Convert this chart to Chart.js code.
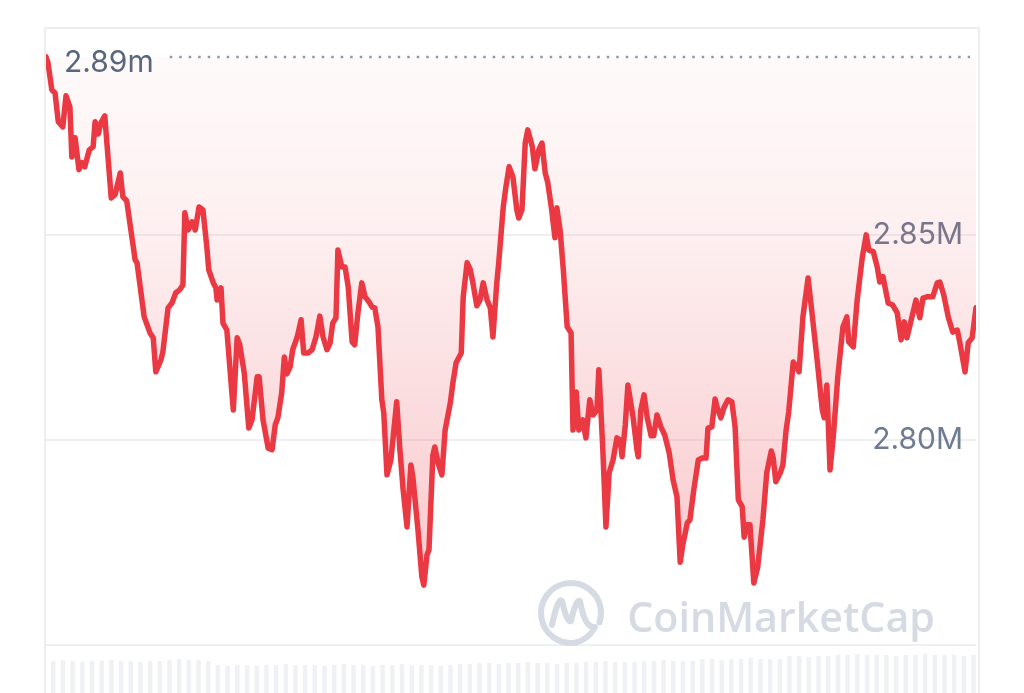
<!DOCTYPE html>
<html>
<head>
<meta charset="utf-8">
<script src="https://cdn.jsdelivr.net/npm/chart.js@4.4.1/dist/chart.umd.min.js"></script>
<style>
  html, body { margin: 0; padding: 0; background: #fff; }
  body { width: 1024px; height: 693px; overflow: hidden; position: relative; }
  #card { position: absolute; left: 44px; top: 27px; width: 932px; height: 700px;
          border: 2px solid #eceef1; border-bottom: none; }
  #wrap { position: absolute; left: 0; top: 0; width: 930px; height: 664px; }
</style>
</head>
<body>
<div id="card"><div id="wrap"><canvas id="price-chart"></canvas></div></div>
<script>
// minutes since start of the 24h window
var priceTimes = [
  0, 3, 9, 14, 19, 26, 31, 37, 40, 45,
  51, 56, 60, 67, 73, 76, 81, 85, 91, 101,
  107, 115, 119, 125, 138, 141, 152, 161, 166, 170,
  178, 181, 189, 195, 201, 207, 212, 215, 220, 226,
  231, 237, 243, 249, 252, 259, 263, 265, 271, 274,
  280, 290, 296, 300, 307, 314, 319, 327, 330, 336,
  344, 350, 355, 359, 365, 369, 373, 378, 382, 389,
  395, 399, 406, 412, 418, 424, 429, 435, 440, 444,
  449, 452, 458, 463, 468, 474, 478, 483, 489, 494,
  500, 505, 509, 514, 520, 523, 528, 534, 543, 548,
  553, 559, 565, 568, 576, 582, 585, 590, 593, 599,
  602, 607, 613, 618, 626, 630, 635, 643, 646, 652,
  657, 661, 667, 672, 677, 683, 688, 692, 698, 701,
  708, 712, 717, 723, 729, 732, 737, 742, 746, 753,
  757, 763, 768, 773, 777, 783, 788, 791, 796, 801,
  807, 813, 816, 821, 825, 831, 836, 842, 847, 853,
  856, 862, 867, 872, 878, 884, 889, 892, 897, 901,
  909, 915, 917, 921, 926, 931, 937, 941, 946, 952,
  958, 965, 971, 977, 982, 986, 993, 997, 1003, 1010,
  1016, 1022, 1025, 1031, 1036, 1039, 1045, 1050, 1056, 1062,
  1067, 1072, 1078, 1081, 1085, 1090, 1096, 1102, 1110, 1116,
  1123, 1126, 1130, 1137, 1141, 1146, 1150, 1157, 1163, 1166,
  1172, 1180, 1186, 1194, 1202, 1205, 1209, 1214, 1219, 1226,
  1234, 1240, 1243, 1250, 1256, 1264, 1270, 1274, 1281, 1287,
  1291, 1296, 1304, 1311, 1318, 1324, 1329, 1333, 1339, 1347,
  1353, 1358, 1364, 1373, 1380, 1384, 1390, 1397, 1404, 1411,
  1415, 1423, 1428, 1434, 1440
];

// value in thousands
var priceValues = [
  2893.4, 2892.0, 2885.4, 2884.6, 2877.6, 2876.3, 2883.9, 2881.2, 2869.0, 2873.7,
  2865.9, 2867.6, 2866.6, 2870.7, 2871.5, 2877.6, 2874.6, 2877.3, 2879.0, 2859.0,
  2859.8, 2865.1, 2859.3, 2858.3, 2843.9, 2843.2, 2830.0, 2826.1, 2824.9, 2816.6,
  2819.5, 2821.5, 2832.2, 2833.4, 2835.9, 2836.6, 2837.8, 2855.4, 2851.2, 2853.2,
  2851.2, 2856.8, 2856.1, 2847.1, 2841.5, 2838.3, 2837.1, 2834.1, 2837.1, 2828.5,
  2826.8, 2807.3, 2824.9, 2823.2, 2816.3, 2802.9, 2804.9, 2815.4, 2815.4, 2804.9,
  2798.0, 2797.6, 2803.7, 2805.4, 2811.5, 2820.2, 2816.1, 2817.8, 2822.0, 2825.1,
  2829.3, 2821.2, 2821.2, 2822.0, 2825.1, 2830.2, 2825.1, 2822.0, 2823.7, 2828.5,
  2829.8, 2846.3, 2842.2, 2842.2, 2837.3, 2823.9, 2823.2, 2831.0, 2838.3, 2834.9,
  2833.7, 2832.4, 2832.2, 2827.6, 2809.8, 2806.6, 2791.5, 2795.1, 2809.3, 2797.6,
  2787.8, 2778.8, 2793.9, 2791.0, 2778.0, 2766.6, 2764.6, 2772.0, 2773.2, 2796.3,
  2798.3, 2794.4, 2791.5, 2802.4, 2809.0, 2813.9, 2818.8, 2821.2, 2834.9, 2843.2,
  2841.5, 2838.3, 2832.7, 2834.1, 2838.3, 2834.1, 2832.2, 2825.1, 2838.3, 2843.2,
  2856.8, 2861.5, 2866.6, 2864.1, 2856.1, 2854.1, 2856.1, 2872.4, 2875.6, 2871.5,
  2866.1, 2870.7, 2872.4, 2865.1, 2862.7, 2856.1, 2849.3, 2856.6, 2851.2, 2841.5,
  2827.6, 2826.1, 2802.4, 2811.7, 2802.4, 2804.9, 2800.5, 2809.8, 2806.1, 2807.3,
  2817.1, 2798.3, 2778.8, 2792.0, 2795.1, 2800.5, 2800.0, 2795.9, 2803.7, 2813.4,
  2805.6, 2797.6, 2795.9, 2807.3, 2811.0, 2805.4, 2801.0, 2801.0, 2806.1, 2803.2,
  2801.2, 2796.8, 2790.2, 2786.1, 2770.2, 2774.4, 2779.8, 2780.5, 2787.8, 2795.1,
  2795.6, 2795.6, 2802.9, 2803.2, 2810.0, 2808.0, 2805.4, 2808.0, 2809.8, 2809.3,
  2803.2, 2785.4, 2783.7, 2776.3, 2779.3, 2779.3, 2765.1, 2769.0, 2780.5, 2792.0,
  2797.3, 2795.6, 2789.8, 2792.0, 2793.9, 2802.4, 2806.8, 2819.0, 2817.6, 2816.6,
  2830.0, 2839.5, 2831.0, 2819.5, 2807.3, 2805.4, 2813.4, 2792.7, 2800.7, 2815.4,
  2827.6, 2830.0, 2823.9, 2822.7, 2834.1, 2844.6, 2850.0, 2846.3, 2845.9, 2842.2,
  2838.5, 2839.8, 2833.4, 2832.9, 2831.0, 2824.4, 2828.8, 2824.9, 2828.8, 2834.1,
  2829.8, 2834.6, 2834.9, 2834.9, 2838.3, 2838.5, 2835.4, 2830.0, 2826.3, 2826.8,
  2823.7, 2816.6, 2823.7, 2824.9, 2832.2
];

// volume per 15-minute bucket (millions)
var volumeValues = [
  3.2, 3.3, 3.2, 3.1, 3.2, 3.2, 3.3, 3.2, 3.2, 3.1, 3.2, 3.2,
  3.3, 3.4, 3.3, 3.3, 3.2,
  2.8, 2.7, 2.8, 2.8, 2.7, 2.8, 2.8, 2.9, 2.8,
  2.8, 2.8, 2.7, 2.8, 2.9, 2.8, 2.8, 2.7, 2.8, 2.8, 2.9, 2.8, 2.8, 2.8, 2.7, 2.8, 2.9, 2.9,
  3.0, 3.0, 2.9, 3.0, 3.0, 3.1, 3.0, 3.0, 2.9, 3.0, 3.0,
  3.1, 3.1, 3.2, 3.1, 3.1, 3.1,
  3.2, 3.2, 3.3, 3.2, 3.2, 3.2,
  3.4, 3.4, 3.3, 3.4, 3.4, 3.5, 3.4, 3.4, 3.4,
  3.7, 3.7, 3.6, 3.7, 3.7,
  3.8, 3.8, 3.9, 3.8, 3.8, 3.8, 3.7, 3.8, 3.8, 3.9, 3.8, 3.8, 3.8, 3.7, 3.8
];

var yTicks = [2750, 2800, 2850];
var OPEN_PRICE = priceValues[0];
var RED = '#ea3943';

var volumeLabels = volumeValues.map(function(v, i) {
  var m = i * 15;
  return ('0' + Math.floor(m / 60)).slice(-2) + ':' + ('0' + (m % 60)).slice(-2);
});

var pricePoints = priceTimes.map(function(t, i) {
  return { x: t, y: priceValues[i] };
});

function fmtM(v) {
  return (v / 1000).toFixed(2);
}

// dotted open-price line with its label
var openLinePlugin = {
  id: 'openLine',
  afterDatasetsDraw: function(chart) {
    var c = chart.ctx;
    var area = chart.chartArea;
    var y = chart.scales.y.getPixelForValue(OPEN_PRICE);
    var text = fmtM(OPEN_PRICE) + 'm';
    c.save();
    c.font = '400 30px Inter';
    c.fillStyle = '#58667e';
    c.textBaseline = 'alphabetic';
    c.fillText(text, area.left + 18, y + 15);
    var w = c.measureText(text).width;
    c.strokeStyle = '#8f98a8';
    c.lineWidth = 2.5;
    c.setLineDash([2.5, 7]);
    c.beginPath();
    c.moveTo(area.left + 18 + w + 16, y);
    c.lineTo(area.right - 6, y);
    c.stroke();
    c.restore();
  }
};

// faint CoinMarketCap watermark
var watermarkPlugin = {
  id: 'watermark',
  beforeDatasetsDraw: function(chart) {
    var c = chart.ctx;
    var area = chart.chartArea;
    var col = '#d5dae3';
    c.save();
    var text = 'CoinMarketCap';
    var targetW = 308;
    c.font = '600 44px "Open Sans"';
    var size = 44 * targetW / c.measureText(text).width;
    c.font = '600 ' + size.toFixed(1) + 'px "Open Sans"';
    c.fillStyle = col;
    c.textBaseline = 'alphabetic';
    c.textAlign = 'right';
    c.fillText(text, area.right - 41, area.bottom - 61);

    var cx = area.right - 405, cy = area.bottom - 80, r = 30;
    c.strokeStyle = col;
    c.lineWidth = 6;
    c.lineCap = 'round';
    c.lineJoin = 'round';
    c.beginPath();
    c.arc(cx, cy, r, 0.45 * Math.PI, 2.1 * Math.PI);
    c.stroke();
    c.beginPath();
    c.moveTo(cx - 19, cy + 12);
    c.quadraticCurveTo(cx - 13, cy - 16, cx - 9, cy - 12);
    c.quadraticCurveTo(cx - 4, cy + 10, cx, cy + 8);
    c.quadraticCurveTo(cx + 5, cy - 14, cx + 9, cy - 12);
    c.quadraticCurveTo(cx + 14, cy + 16, cx + 24, cy + 14);
    c.quadraticCurveTo(cx + 18, cy + 26, cx + r * Math.cos(0.45 * Math.PI), cy + r * Math.sin(0.45 * Math.PI));
    c.stroke();
    c.restore();
  }
};

var canvas = document.getElementById('price-chart');
var priceChart = new Chart(canvas, {
  type: 'line',
  data: {
    labels: volumeLabels,
    datasets: [
      {
        type: 'line',
        label: 'Price',
        data: pricePoints,
        xAxisID: 'x',
        yAxisID: 'y',
        borderColor: RED,
        borderWidth: 5.5,
        borderJoinStyle: 'round',
        borderCapStyle: 'round',
        pointRadius: 0,
        tension: 0,
        fill: { value: OPEN_PRICE },
        backgroundColor: function(ctx) {
          var area = ctx.chart.chartArea;
          if (!area) return 'rgba(234,57,67,0.1)';
          var g = ctx.chart.ctx.createLinearGradient(0, area.top, 0, area.bottom);
          g.addColorStop(0, 'rgba(234,57,67,0.015)');
          g.addColorStop(0.3, 'rgba(234,57,67,0.08)');
          g.addColorStop(0.85, 'rgba(234,57,67,0.28)');
          g.addColorStop(1, 'rgba(234,57,67,0.32)');
          return g;
        },
        order: 1
      },
      {
        type: 'bar',
        label: 'Volume',
        data: volumeValues,
        xAxisID: 'xVol',
        yAxisID: 'yVol',
        backgroundColor: '#eff1f4',
        barPercentage: 0.93,
        categoryPercentage: 1,
        order: 2
      }
    ]
  },
  options: {
    responsive: true,
    maintainAspectRatio: false,
    animation: false,
    layout: { padding: 0 },
    plugins: {
      legend: { display: false },
      tooltip: { enabled: false }
    },
    scales: {
      x: { type: 'linear', min: 0, max: 1440, display: false },
      xVol: { type: 'category', offset: true, display: false },
      y: {
        type: 'linear',
        position: 'right',
        min: 2738.3,
        max: 2900.2,
        border: { display: false },
        grid: { color: '#eff0f3', lineWidth: 2, drawTicks: false },
        afterBuildTicks: function(scale) {
          scale.ticks = yTicks.map(function(v) { return { value: v }; });
        },
        afterFit: function(scale) {
          scale.width = 0;
          scale.paddingTop = 0;
          scale.paddingBottom = 0;
        },
        ticks: {
          mirror: true,
          padding: -13,
          color: '#6f7b91',
          font: { family: 'Inter', size: 30 },
          callback: function(v) {
            return v === 2750 ? '' : fmtM(v) + 'M';
          }
        }
      },
      yVol: { type: 'linear', min: 0, max: 66.4, display: false }
    }
  },
  plugins: [watermarkPlugin, openLinePlugin]
});
</script>
</body>
</html>
